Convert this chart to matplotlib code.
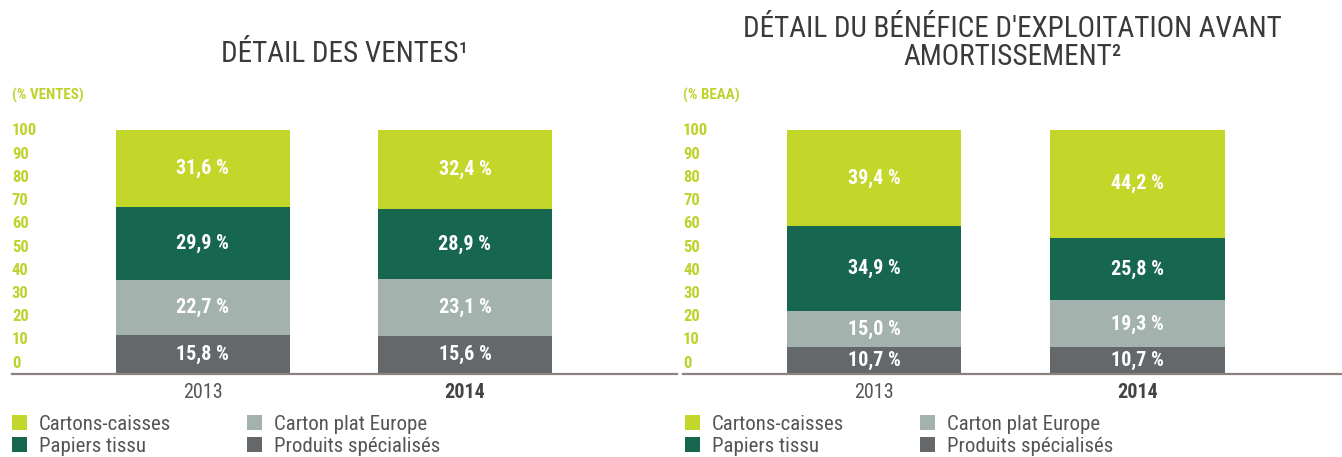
import matplotlib
matplotlib.use("Agg")
import matplotlib.pyplot as plt
from matplotlib import font_manager as fm
import numpy as np

years = ["2013", "2014"]
series = ["Cartons-caisses", "Papiers tissu", "Carton plat Europe", "Produits spécialisés"]
# stacked bottom -> top: Produits spécialisés, Carton plat Europe, Papiers tissu, Cartons-caisses
ventes_produits = [15.8, 15.6]
ventes_carton_plat = [22.7, 23.1]
ventes_papiers = [29.9, 28.9]
ventes_cartons = [31.6, 32.4]
beaa_produits = [10.7, 10.7]
beaa_carton_plat = [15.0, 19.3]
beaa_papiers = [34.9, 25.8]
beaa_cartons = [39.4, 44.2]
ytick_values = [0, 10, 20, 30, 40, 50, 60, 70, 80, 90, 100]

# pick a condensed family if one is installed
installed = {f.name for f in fm.fontManager.ttflist}
cond = None
for cand in ["Liberation Sans Narrow", "Roboto Condensed", "Open Sans Condensed",
             "DejaVu Sans Condensed", "Noto Sans Condensed"]:
    if cand in installed:
        cond = cand
        break
if cond is not None:
    plt.rcParams['font.family'] = [cond, 'DejaVu Sans']
    k = 1.0
else:
    plt.rcParams['font.family'] = ['Liberation Sans', 'DejaVu Sans']
    k = 0.84

colors = {
    "Cartons-caisses": "#c3d62a",
    "Papiers tissu": "#17664f",
    "Carton plat Europe": "#a3b2ac",
    "Produits spécialisés": "#65686a",
}
lime_txt = "#bfd22c"
W, H = 1342, 457
fig = plt.figure(figsize=(W / 100, H / 100), dpi=100)
fig.patch.set_facecolor("white")


def fx(px):
    return px / W


def fy(py):
    return 1 - py / H


def draw(ax_rect, data, title, title_y, unit_label, leg_x, xlim):
    ax = fig.add_axes(ax_rect)
    x = np.arange(len(years))
    bottom = np.zeros(len(years))
    handles = {}
    for name in ["Produits spécialisés", "Carton plat Europe", "Papiers tissu", "Cartons-caisses"]:
        vals = np.array(data[name])
        b = ax.bar(x, vals, bottom=bottom, width=0.663, color=colors[name], linewidth=0)
        ax.bar_label(b, labels=[f"{v:.1f} %".replace(".", ",") for v in vals],
                     label_type="center", color="white", fontsize=14.5 * k,
                     fontweight="bold")
        handles[name] = b
        bottom += vals
    ax.set_ylim(0, 100)
    ax.set_xlim(*xlim)
    for s in ["top", "right", "left"]:
        ax.spines[s].set_visible(False)
    ax.spines["bottom"].set_color("#8b8280")
    ax.spines["bottom"].set_linewidth(1.6)
    ax.set_yticks([])
    ax.set_xticks(x)
    ax.set_xticklabels(years, fontsize=14.5 * k)
    ax.tick_params(axis="x", length=0, pad=7, colors="#555555")
    lbls = ax.get_xticklabels()
    lbls[1].set_fontweight("bold")
    lbls[1].set_color("#444444")
    # y tick labels (left-aligned inside the axes area)
    trans = matplotlib.transforms.blended_transform_factory(ax.transAxes, ax.transData)
    for v in ytick_values:
        ax.text(0.0, 4.3 + v * 0.953, str(v), transform=trans, ha="left", va="center",
                fontsize=12 * k, fontweight="bold", color=lime_txt)
    fig.text(ax_rect[0], fy(95), unit_label, ha="left", va="center", fontsize=10.8 * k,
             fontweight="bold", color=lime_txt)
    cx = ax_rect[0] + ax_rect[2] / 2
    fig.text(cx, fy(title_y), title, ha="center", va="baseline", fontsize=21 * k,
             color="#3a3a3a", linespacing=1.0)
    order = ["Cartons-caisses", "Papiers tissu", "Carton plat Europe", "Produits spécialisés"]
    fs = 15 * k
    leg = fig.legend([handles[n] for n in order], order, loc="upper left",
                     bbox_to_anchor=(fx(leg_x), fy(415)), ncol=2, frameon=False,
                     fontsize=fs, borderpad=0, borderaxespad=0,
                     handlelength=15 / (fs * 1.389), handleheight=15 / (fs * 1.389),
                     handletextpad=12 / (fs * 1.389), columnspacing=76 / (fs * 1.389),
                     labelspacing=0.15)
    for t in leg.get_texts():
        t.set_color("#555555")
    return ax


ax_b = 1 - 373.5 / H
ax_h = (373.5 - 130) / H
draw([fx(12), ax_b, fx(665), ax_h],
     {"Produits spécialisés": ventes_produits, "Carton plat Europe": ventes_carton_plat,
      "Papiers tissu": ventes_papiers, "Cartons-caisses": ventes_cartons},
     "DÉTAIL DES VENTES¹", 62, "(% VENTES)", 12, (-0.726, 1.808))
draw([fx(683), ax_b, fx(659), ax_h],
     {"Produits spécialisés": beaa_produits, "Carton plat Europe": beaa_carton_plat,
      "Papiers tissu": beaa_papiers, "Cartons-caisses": beaa_cartons},
     "DÉTAIL DU BÉNÉFICE D'EXPLOITATION AVANT\nAMORTISSEMENT²", 65, "(% BEAA)", 685,
     (-0.725, 1.776))

fig.savefig("out.png", dpi=100, facecolor="white")
